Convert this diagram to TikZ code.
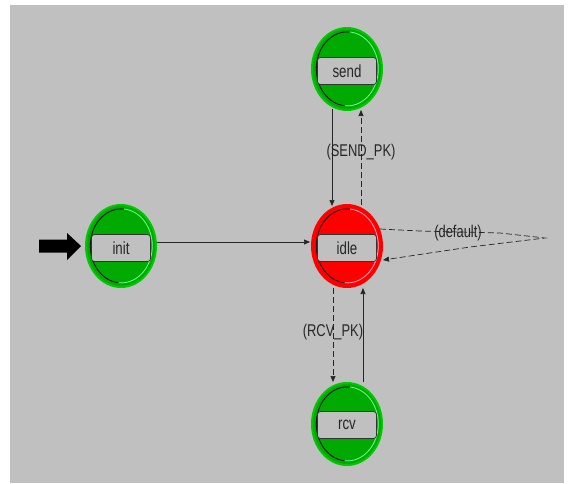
\documentclass[tikz,border=0pt]{standalone}
\usepackage{fontspec}
\setmainfont{Liberation Sans}
\usetikzlibrary{shapes.geometric,arrows.meta}
\definecolor{bg}{RGB}{192,192,192}
\definecolor{sgreen}{RGB}{0,170,0}
\definecolor{sgreenb}{RGB}{0,200,0}
\definecolor{lgreen}{RGB}{110,255,150}
\definecolor{sred}{RGB}{255,0,0}
\definecolor{lred}{RGB}{255,170,190}
\newcommand\lbl[1]{\scalebox{0.76}[1]{#1}}
\tikzset{
  stategreen/.style={ellipse,minimum width=70pt,minimum height=82pt,inner sep=0pt,fill=sgreen,draw=sgreenb,line width=2pt},
  statered/.style={ellipse,minimum width=70pt,minimum height=82pt,inner sep=0pt,fill=sred,draw=sred,line width=2pt},
  namebox/.style={rectangle,rounded corners=3pt,minimum width=59pt,minimum height=27pt,inner sep=0pt,fill=bg,draw=black!80,line width=0.7pt,font=\fontsize{17.5}{17.5}\selectfont,text=black!85},
  edgelbl/.style={font=\fontsize{17}{17}\selectfont,text=black!85,inner sep=0pt},
  solidarr/.style={draw=black!85,line width=0.7pt,-{Triangle[length=6pt,width=5pt]}},
  dasharr/.style={draw=black!85,line width=0.7pt,dash pattern=on 6pt off 3pt,-{Triangle[length=6pt,width=5pt]}},
}
\begin{document}
\begin{tikzpicture}[x=1pt,y=-1pt]
\useasboundingbox (0,0) rectangle (569,483);
\fill[white] (0,0) rectangle (569,483);
\fill[bg] (10,5) rectangle (564,483);

% states
\foreach \n/\x/\y/\s/\hl in {send/347/69/stategreen/lgreen, idle/347/246/statered/lred, init/121/246/stategreen/lgreen, rcv/347/424/stategreen/lgreen}{
  \node[\s] (\n) at (\x,\y) {};
  \draw[black,line width=0.8pt] (\x+3,\y-37) arc[start angle=-85,end angle=-265,x radius=31,y radius=37];
  \draw[\hl,line width=0.8pt] (\x+3,\y-37) arc[start angle=-85,end angle=95,x radius=31,y radius=37];
}
\node[namebox] (sendb) at (347,71) {\lbl{send}};
\node[namebox] (idleb) at (347,248) {\lbl{idle}};
\node[namebox] (initb) at (121,248) {\lbl{init}};
\node[namebox] (rcvb) at (347,425) {\lbl{rcv}};

% initial arrow
\fill[black] (39,239.5) -- (67,239.5) -- (67,233) -- (81,246) -- (67,260) -- (67,252.5) -- (39,252.5) -- cycle;

% transitions
\coordinate (i1) at (157,242);
\coordinate (i2) at (310,242);
\draw[solidarr] (i1) -- (i2);

\coordinate (s1) at (332,109);
\coordinate (s2) at (332,206);
\draw[solidarr] (s1) -- (s2);
\coordinate (s3) at (361,205);
\coordinate (s4) at (361,110);
\draw[dasharr] (s3) -- (s4);
\node[edgelbl] (lsend) at (361,152) {\lbl{(SEND\_PK)}};

\coordinate (r1) at (333,288);
\coordinate (r2) at (333,382);
\draw[dasharr] (r1) -- (r2);
\coordinate (r3) at (363,382);
\coordinate (r4) at (363,288);
\draw[solidarr] (r3) -- (r4);
\node[edgelbl] (lrcv) at (333,332) {\lbl{(RCV\_PK)}};

\coordinate (d1) at (380,229);
\coordinate (d2) at (545,238);
\coordinate (d3) at (383,260);
\draw[dasharr] (d1) -- (420,231) -- (500,233) -- (d2) -- (470,247) -- (d3);
\node[edgelbl] (ldef) at (458,233) {\lbl{(default)}};
\end{tikzpicture}
\end{document}
